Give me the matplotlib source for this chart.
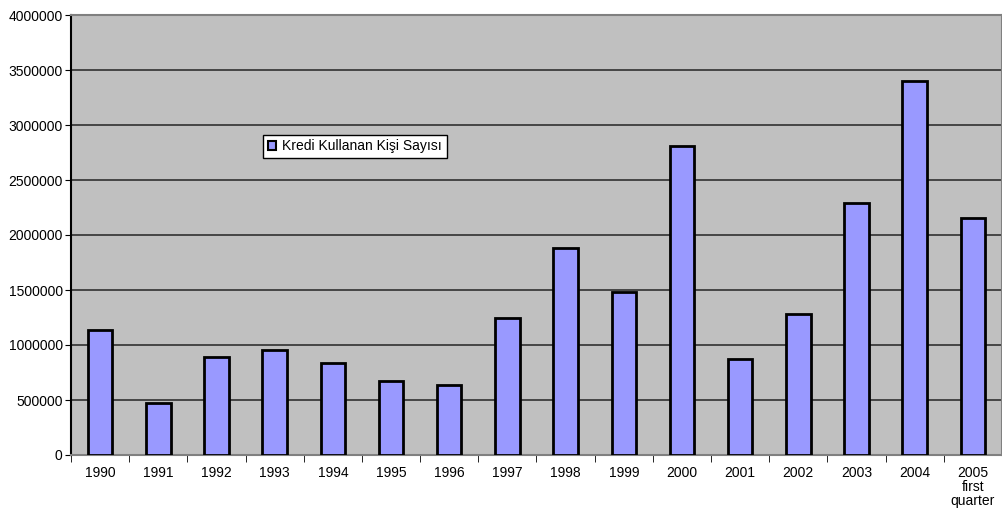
import matplotlib
matplotlib.use("Agg")
import matplotlib.pyplot as plt
import numpy as np

# number of people using credit, per year
years = ["1990", "1991", "1992", "1993", "1994", "1995", "1996", "1997",
         "1998", "1999", "2000", "2001", "2002", "2003", "2004",
         "2005\nfirst\nquarter"]
borrowers = [1136000, 475000, 888000, 952000, 836000, 670000, 636000, 1243000,
             1885000, 1485000, 2812000, 873000, 1282000, 2288000, 3400000, 2157000]
yticks = [0, 500000, 1000000, 1500000, 2000000, 2500000, 3000000, 3500000, 4000000]
series_name = "Kredi Kullanan Kişi Sayısı"

plt.rcParams["font.family"] = ["Liberation Sans", "DejaVu Sans"]
plt.rcParams["font.size"] = 10

fig = plt.figure(figsize=(10.03, 5.23), dpi=100)
ax = fig.add_axes([71 / 1003, 68 / 523, 931 / 1003, 440 / 523])
ax.set_facecolor("#C0C0C0")

x = np.arange(len(years))
ax.bar(x, borrowers, width=0.42, color="#9999FF", edgecolor="black",
       linewidth=2, label=series_name, zorder=3)

ax.set_xlim(-0.5, len(years) - 0.5)
ax.set_ylim(0, 4000000)
ax.set_yticks(yticks)
ax.set_yticklabels([str(v) for v in yticks])
ax.yaxis.grid(True, color="#303030", linewidth=1.2, zorder=1)
ax.set_axisbelow(True)

# category labels sit between boundary ticks
ax.set_xticks(x)
ax.set_xticklabels(years, linespacing=1.0)
ax.tick_params(axis="x", which="major", length=0, pad=8)
ax.set_xticks(np.arange(-0.5, len(years), 1.0), minor=True)
ax.tick_params(axis="x", which="minor", length=5, color="black", direction="out")
ax.tick_params(axis="y", length=4, color="black", direction="out", pad=2)

for side in ("top", "right", "bottom"):
    ax.spines[side].set_color("#808080")
    ax.spines[side].set_linewidth(1.5)
ax.spines["left"].set_color("black")
ax.spines["left"].set_linewidth(1.5)

leg = ax.legend(loc="upper left", bbox_to_anchor=(0.199, 0.744), frameon=True,
                fancybox=False, edgecolor="black", framealpha=1,
                handlelength=0.6, handleheight=0.6, handletextpad=0.4,
                borderpad=0.35, fontsize=10)
leg.get_frame().set_linewidth(1.0)
for h in leg.legend_handles:
    h.set_linewidth(1.5)

fig.savefig("out.png", dpi=100)
